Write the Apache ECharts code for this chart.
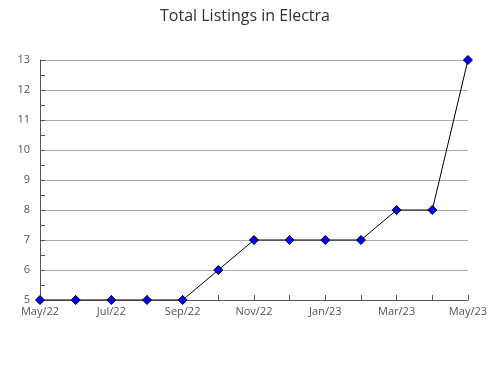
<!DOCTYPE html>
<html><head><meta charset="utf-8">
<script src="https://cdn.jsdelivr.net/npm/echarts@6/dist/echarts.min.js"></script>
<style>html,body{margin:0;padding:0;background:#fff}#c{width:490px;height:380px}</style>
</head><body><div id="c"></div>
<script>
var titleText = "Total Listings in Electra";
var categories = ["May/22","Jun/22","Jul/22","Aug/22","Sep/22","Oct/22","Nov/22","Dec/22","Jan/23","Feb/23","Mar/23","Apr/23","May/23"];
var listings = [5,5,5,5,5,6,7,7,7,7,8,8,13];
var yMin = 5, yMax = 13, yStep = 1;

var chart = echarts.init(document.getElementById('c'));
chart.setOption({
  animation: false,
  backgroundColor: '#fff',
  title: {
    text: titleText, left: 'center', top: 3,
    textStyle: {fontFamily: 'Open Sans', fontSize: 16, fontWeight: 'normal', color: '#333'}
  },
  grid: {left: 40, right: 20, top: 60, bottom: 80, containLabel: false},
  xAxis: {
    type: 'category', data: categories, boundaryGap: false,
    axisLine: {lineStyle: {color: '#555', width: 1}},
    axisTick: {inside: true, length: 5, interval: 0, lineStyle: {color: '#555'}},
    axisLabel: {interval: 1, fontFamily: 'Open Sans', fontSize: 11, color: '#555', margin: 6},
    splitLine: {show: false}
  },
  yAxis: {
    type: 'value', min: yMin, max: yMax, interval: yStep,
    axisLine: {show: true, lineStyle: {color: '#555', width: 1}},
    axisTick: {show: true, inside: true, length: 5, lineStyle: {color: '#555'}},
    minorTick: {show: true, splitNumber: 2, length: 5, lineStyle: {color: '#555'}},
    axisLabel: {fontFamily: 'Open Sans', fontSize: 11, color: '#555', margin: 10},
    splitLine: {show: true, lineStyle: {color: '#aaa', width: 1}}
  },
  series: [{
    type: 'line', data: listings,
    symbol: 'diamond', symbolSize: 9,
    lineStyle: {color: '#000', width: 1},
    itemStyle: {color: '#0000ff', borderColor: '#000', borderWidth: 1}
  }]
});
</script></body></html>
